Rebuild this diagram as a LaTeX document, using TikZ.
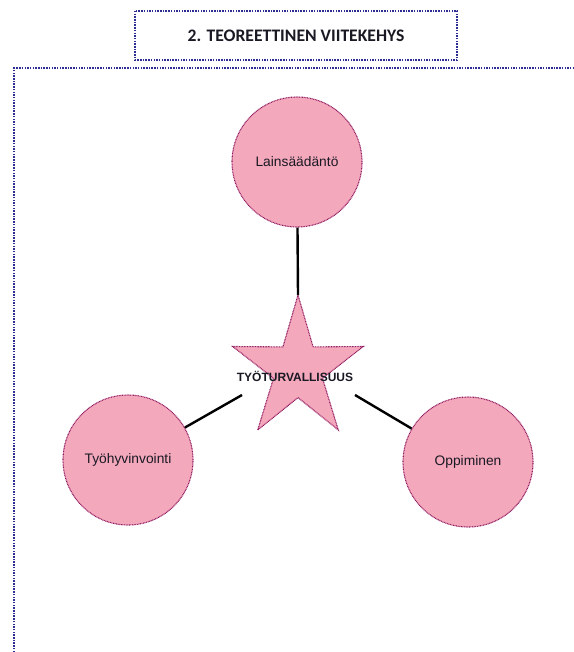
\documentclass[tikz,border=0pt]{standalone}
\usepackage{fontspec}
\setmainfont{Liberation Sans}
\newfontfamily\titlefont{Carlito}
\begin{document}
\definecolor{framenavy}{RGB}{45,45,145}
\definecolor{petal}{RGB}{244,168,188}
\definecolor{petalrim}{RGB}{145,25,95}
\definecolor{inktext}{RGB}{25,25,35}
\begin{tikzpicture}[x=1pt,y=-1pt,
  navydots/.style={draw=framenavy,line width=2pt,dash pattern=on 1.5pt off 1.2pt},
  rimdots/.style={draw=petalrim,line width=1.1pt,dash pattern=on 0.9pt off 0.7pt},
  topic/.style={circle,rimdots,fill=petal,minimum size=130pt,inner sep=0pt,
    text=inktext,font=\fontsize{13.8}{15}\selectfont},
  link/.style={draw=black,line width=2.4pt}]
\useasboundingbox (0,0) rectangle (573,652);

% heading box
\draw[navydots] (135,11) rectangle (457,60);
\node[text=inktext,font=\titlefont\bfseries\fontsize{17.6}{19}\selectfont] (title) at (296,35.5) {2. TEOREETTINEN VIITEKEHYS};

% outer frame (left and top edges)
\draw[navydots] (14,652) -- (14,68.5) -- (573,68.5);

% three topic circles
\node[topic] (lain) at (297,162) {Lainsäädäntö};
\node[topic] (tyo) at (128,460) {Työhyvinvointi};
\node[topic] (opp) at (468,462) {Oppiminen};

% central star
\draw[rimdots,fill=petal]
  (298,295) -- (313.1,346.9) -- (363.3,346.5) -- (322.5,378.3) -- (338.3,430)
  -- (298,397.6) -- (257.7,430) -- (273.5,378.3) -- (232.7,346.5) -- (282.9,346.9) -- cycle;
\node[text=inktext,font=\bfseries\fontsize{12}{13}\selectfont] (turva) at (295,376) {TYÖTURVALLISUUS};

% connector ends at the star
\coordinate (startop) at (298,295);
\coordinate (starleft) at (242,395);
\coordinate (starright) at (355,395);

\draw[link] (lain) -- (startop);
\draw[link] (tyo) -- (starleft);
\draw[link] (opp) -- (starright);
\end{tikzpicture}
\end{document}
